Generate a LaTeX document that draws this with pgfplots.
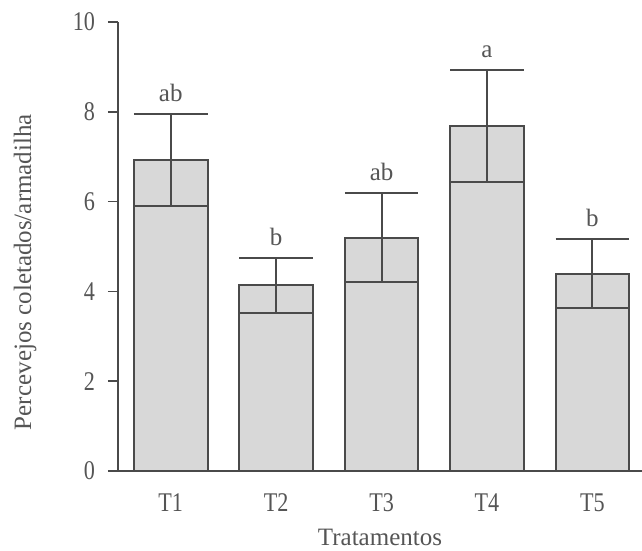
\documentclass[border=0pt]{standalone}
\usepackage{fontspec}
\setmainfont{Liberation Serif}
\newfontfamily\condensed[FakeStretch=0.82]{Liberation Serif}
\usepackage{pgfplots}
\pgfplotsset{compat=1.18}
\definecolor{ink}{HTML}{4A4A4A}
\definecolor{txt}{HTML}{555555}
\definecolor{barfill}{HTML}{D8D8D8}
\pgfplotstableread{
x y e
1 6.92 1.02
2 4.14 0.61
3 5.20 1.00
4 7.68 1.24
5 4.39 0.77
}\bars
\pgfplotstableread{
x y lab
1 7.94 ab
2 4.75 b
3 6.20 ab
4 8.92 a
5 5.16 b
}\letters
\begin{document}
\begin{tikzpicture}
\begin{axis}[
  width=262pt, height=224.5pt, scale only axis,
  xmin=0.5, xmax=5.47, ymin=0, ymax=10,
  axis x line=bottom, axis y line=left,
  axis line style={ink, line width=1pt, -},
  ytick={0,2,...,10},
  xtick={1,...,5}, xticklabels={T1,T2,T3,T4,T5},
  x tick style={draw=none},
  y tick style={ink, line width=0.8pt},
  tick align=outside, major tick length=5pt,
  /pgf/number format/assume math mode=true,
  tick label style={font=\condensed\fontsize{13.5}{16}\selectfont, text=txt},
  yticklabel style={xshift=-3pt},
  xticklabel style={yshift=-3pt},
  xlabel={Tratamentos},
  ylabel={Percevejos coletados/armadilha},
  every axis x label/.style={at={(rel axis cs:0.5,0)}, anchor=base, yshift=-37pt, font=\fontsize{12.5}{15}\selectfont, text=txt},
  every axis y label/.style={at={(rel axis cs:0,0.443)}, xshift=-46.5pt, anchor=center, rotate=90, font=\fontsize{12.5}{15}\selectfont, text=txt},
  clip=false,
]
\addplot[ybar, bar width=0.7, fill=barfill, draw=ink, line width=1pt,
  error bars/.cd, y dir=both, y explicit,
  error bar style={ink, line width=1pt},
  error mark options={rotate=90, mark size=18.4pt, ink, line width=1pt}]
  table[x=x, y=y, y error=e] {\bars};
\addplot[draw=none, mark=none, nodes near coords, point meta=explicit symbolic,
  nodes near coords style={anchor=base, yshift=6.3pt, inner sep=0pt, font=\fontsize{12.5}{15}\selectfont, text=txt}]
  table[x=x, y=y, meta=lab] {\letters};
\coordinate (ll) at (rel axis cs:0,0);
\coordinate (ur) at (rel axis cs:1,1);
\end{axis}
\pgfresetboundingbox
\path ([shift={(-59pt,-40pt)}]ll) rectangle ([shift={(0pt,11pt)}]ur);
\end{tikzpicture}
\end{document}
